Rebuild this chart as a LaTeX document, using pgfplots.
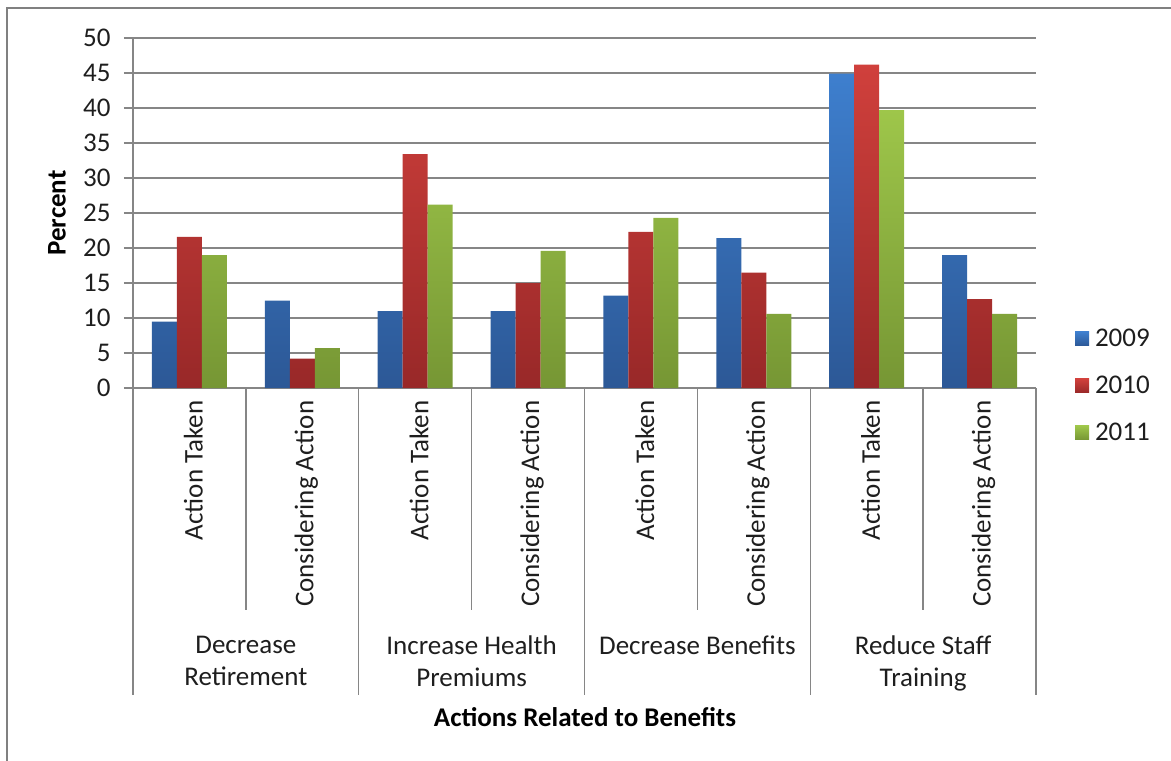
\documentclass[border=0pt]{standalone}
\usepackage{pgfplots}
\pgfplotsset{compat=1.18}
\usepackage{fontspec}
\setmainfont{Carlito}

\definecolor{gridgray}{RGB}{134,134,134}
\definecolor{framegray}{RGB}{128,128,128}
\definecolor{textcol}{RGB}{30,30,30}
\definecolor{blueTop}{RGB}{62,127,206}
\definecolor{blueBot}{RGB}{44,88,150}
\definecolor{redTop}{RGB}{208,64,60}
\definecolor{redBot}{RGB}{152,40,40}
\definecolor{greenTop}{RGB}{158,198,74}
\definecolor{greenBot}{RGB}{118,150,52}

\newcommand{\fs}{\fontsize{27}{32}\selectfont}

\begin{document}
\begin{tikzpicture}[x=1pt,y=1pt]
\useasboundingbox (0,0) rectangle (1171,-761);
% chart frame
\draw[framegray, line width=2pt] (7,-761) -- (7,-8) -- (1171,-8);

\begin{axis}[
  at={(133pt,-388pt)}, anchor=south west,
  scale only axis, width=903pt, height=350pt,
  xmin=-0.5, xmax=7.5, ymin=0, ymax=50,
  ybar=0pt, bar width=25pt,
  axis lines*=left,
  axis line style={gridgray, line width=1.3pt},
  ytick={0,5,...,50},
  ymajorgrids, major grid style={gridgray, line width=1.3pt},
  ytick style={gridgray, line width=1.3pt},
  tick align=outside, major tick length=9pt,
  xtick={0,...,7},
  xticklabels={Action Taken, Considering Action, Action Taken, Considering Action,
                Action Taken, Considering Action, Action Taken, Considering Action},
  xtick style={draw=none},
  xticklabel style={rotate=90, anchor=east, font=\fs, text=textcol, yshift=-4pt},
  yticklabel style={font=\fs, text=textcol, xshift=-10pt},
  /pgf/number format/assume math mode=true,
  clip=false,
  legend style={at={(1.043,0.006)}, anchor=west, draw=none, fill=none,
                font=\fs, text=textcol, row sep=24pt, inner sep=0pt},
  legend cell align=left,
  legend image code/.code={\fill (4pt,-7pt) rectangle (18pt,7pt); \path (22pt,0pt);},
]
% 2009
\addplot[draw=none, top color=blueTop, bottom color=blueBot]
  coordinates {(0,9.5) (1,12.5) (2,11.0) (3,11.0) (4,13.2) (5,21.4) (6,44.9) (7,19.0)};
% 2010
\addplot[draw=none, top color=redTop, bottom color=redBot]
  coordinates {(0,21.6) (1,4.2) (2,33.4) (3,15.0) (4,22.3) (5,16.5) (6,46.2) (7,12.7)};
% 2011
\addplot[draw=none, top color=greenTop, bottom color=greenBot]
  coordinates {(0,19.0) (1,5.7) (2,26.2) (3,19.6) (4,24.3) (5,10.6) (6,39.7) (7,10.6)};
\legend{2009,2010,2011}

% category separators below the axis
\pgfplotsinvokeforeach{-0.5,1.5,3.5,5.5,7.5}{
  \draw[gridgray, line width=1.3pt] (axis cs:#1,0) -- ++(0pt,-307pt);
}
\pgfplotsinvokeforeach{0.5,2.5,4.5,6.5}{
  \draw[gridgray, line width=1.3pt] (axis cs:#1,0) -- ++(0pt,-222pt);
}
% group labels
\node[anchor=north, align=center, font=\fs, text=textcol, inner sep=0pt]
  at (axis cs:0.5,0) [yshift=-248pt] {Decrease\\Retirement};
\node[anchor=north, align=center, font=\fs, text=textcol, inner sep=0pt]
  at (axis cs:2.5,0) [yshift=-248pt] {Increase Health\\Premiums};
\node[anchor=north, align=center, font=\fs, text=textcol, inner sep=0pt]
  at (axis cs:4.5,0) [yshift=-248pt] {Decrease Benefits};
\node[anchor=north, align=center, font=\fs, text=textcol, inner sep=0pt]
  at (axis cs:6.5,0) [yshift=-248pt] {Reduce Staff\\Training};
\end{axis}

% axis titles
\node[font=\fontsize{27}{32}\selectfont\bfseries, text=black] at (585,-717) {Actions Related to Benefits};
\node[font=\fontsize{27}{32}\selectfont\bfseries, text=black, rotate=90] at (57,-213) {Percent};
\end{tikzpicture}
\end{document}
